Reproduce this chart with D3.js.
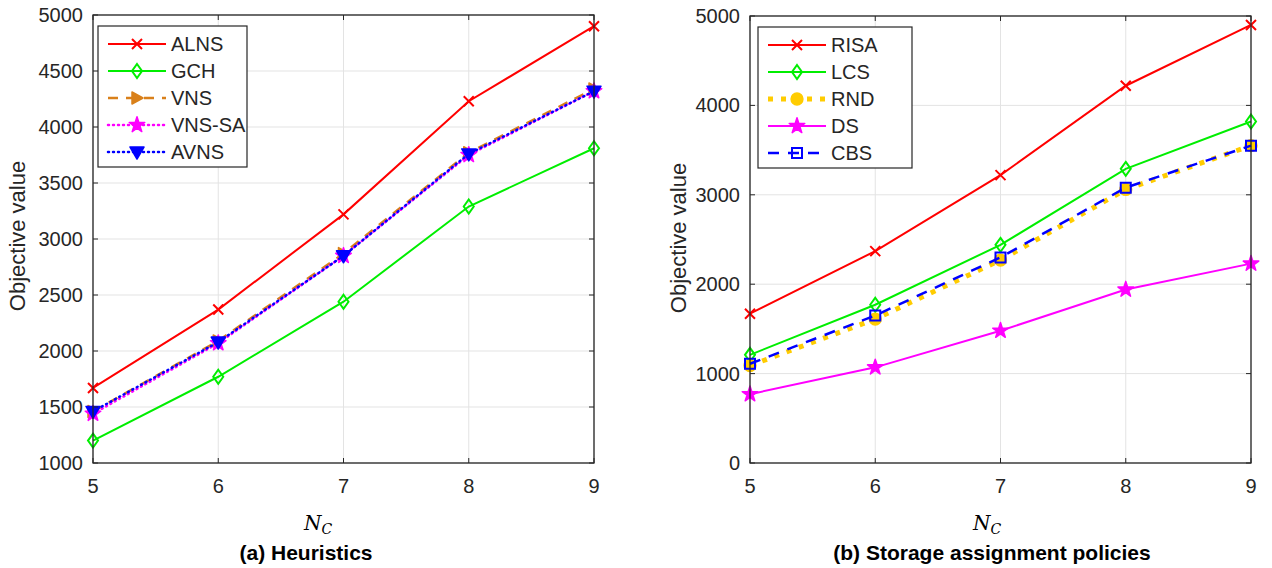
<!DOCTYPE html>
<html>
<head>
<meta charset="utf-8">
<script src="https://cdn.jsdelivr.net/npm/d3@7"></script>
<style>
  body { margin: 0; background: #fff; }
  svg { display: block; font-family: Arial, "Liberation Sans", sans-serif; }
  .tick-label { font-size: 20px; fill: #262626; }
  .ylab { font-size: 22px; fill: #262626; }
  .legend-text { font-size: 20px; fill: #262626; }
  .title { font-size: 21px; font-weight: bold; fill: #000; }
  .xlab { font-family: "DejaVu Serif", "Liberation Serif", serif; font-style: italic; font-size: 20px; fill: #000; }
</style>
</head>
<body>
<svg id="chart" width="1272" height="568"></svg>
<script>
// N_C values on the x axis
const nc = [5, 6, 7, 8, 9];

// (a) Heuristics
const alns  = [1670, 2370, 3220, 4230, 4900];
const gch   = [1200, 1770, 2440, 3290, 3810];
const vns   = [1460, 2090, 2870, 3770, 4340];
const vnsSa = [1440, 2070, 2850, 3750, 4320];
const avns  = [1460, 2080, 2850, 3760, 4320];

// (b) Storage assignment policies
const risa = [1670, 2370, 3220, 4220, 4900];
const lcs  = [1210, 1770, 2440, 3290, 3820];
const rnd  = [1090, 1610, 2270, 3060, 3550];
const ds   = [770, 1070, 1480, 1940, 2230];
const cbs  = [1110, 1650, 2300, 3080, 3550];

const ticksA = [1000, 1500, 2000, 2500, 3000, 3500, 4000, 4500, 5000];
const ticksB = [0, 1000, 2000, 3000, 4000, 5000];

const svg = d3.select("#chart");
const axisColor = "#262626";

// marker path generators, centred on 0,0
function markerPath(type) {
    switch (type) {
        case "x": return "M-5,-5L5,5M-5,5L5,-5";
        case "diamond": return "M0,-7L5,0L0,7L-5,0Z";
        case "triright": return "M-5,-6L6,0L-5,6Z";
        case "tridown": return "M-7,-5L7,-5L0,7Z";
        case "star": return d3.symbol(d3.symbolStar, 75)();
        case "circle": return d3.symbol(d3.symbolCircle, 110)();
        case "square": return "M-5,-5L5,-5L5,5L-5,5Z";
    }
}

function drawMarker(g, s, cx, cy) {
    const p = g.append("path")
        .attr("d", markerPath(s.marker))
        .attr("transform", `translate(${cx},${cy})`);
    if (s.fill) {
        p.attr("fill", s.color).attr("stroke", s.color).attr("stroke-width", 1.5)
         .attr("stroke-linejoin", "round");
    } else {
        p.attr("fill", "none").attr("stroke", s.color).attr("stroke-width", 2);
    }
}

function panel(opts) {
    const x = d3.scaleLinear().domain([5, 9]).range([opts.left, opts.right]);
    const y = d3.scaleLinear().domain(opts.yDomain).range([opts.bottom, opts.top]);
    const g = svg.append("g");

    // grid
    g.selectAll(".gx").data(nc).enter().append("line")
        .attr("x1", d => x(d)).attr("x2", d => x(d))
        .attr("y1", opts.top).attr("y2", opts.bottom)
        .attr("stroke", "#e3e3e3").attr("stroke-width", 1);
    g.selectAll(".gy").data(opts.ticks).enter().append("line")
        .attr("x1", opts.left).attr("x2", opts.right)
        .attr("y1", d => y(d)).attr("y2", d => y(d))
        .attr("stroke", "#e3e3e3").attr("stroke-width", 1);

    // series
    opts.series.forEach(s => {
        const pts = nc.map((v, i) => [x(v), y(s.values[i])]);
        g.append("path")
            .attr("d", d3.line()(pts))
            .attr("fill", "none")
            .attr("stroke", s.color)
            .attr("stroke-width", s.width)
            .attr("stroke-dasharray", s.dash)
            .attr("stroke-linecap", s.cap || "butt");
        pts.forEach(p => drawMarker(g, s, p[0], p[1]));
    });

    // box and ticks (inward, on all four sides)
    g.append("rect")
        .attr("x", opts.left).attr("y", opts.top)
        .attr("width", opts.right - opts.left).attr("height", opts.bottom - opts.top)
        .attr("fill", "none").attr("stroke", axisColor).attr("stroke-width", 1.3);
    nc.forEach(v => {
        g.append("line").attr("x1", x(v)).attr("x2", x(v))
            .attr("y1", opts.bottom).attr("y2", opts.bottom - 5).attr("stroke", axisColor);
        g.append("line").attr("x1", x(v)).attr("x2", x(v))
            .attr("y1", opts.top).attr("y2", opts.top + 5).attr("stroke", axisColor);
        g.append("text").attr("class", "tick-label")
            .attr("x", x(v)).attr("y", opts.bottom + 30)
            .attr("text-anchor", "middle").text(v);
    });
    opts.ticks.forEach(v => {
        g.append("line").attr("x1", opts.left).attr("x2", opts.left + 5)
            .attr("y1", y(v)).attr("y2", y(v)).attr("stroke", axisColor);
        g.append("line").attr("x1", opts.right).attr("x2", opts.right - 5)
            .attr("y1", y(v)).attr("y2", y(v)).attr("stroke", axisColor);
        g.append("text").attr("class", "tick-label")
            .attr("x", opts.left - 10).attr("y", y(v) + 7)
            .attr("text-anchor", "end").text(v);
    });

    // axis labels and caption
    g.append("text").attr("class", "ylab")
        .attr("transform", `translate(${opts.ylabX},${opts.ylabY}) rotate(-90)`)
        .attr("text-anchor", "middle").text("Objective value");
    const xl = g.append("text").attr("class", "xlab")
        .attr("x", opts.xlabX).attr("y", 530).attr("text-anchor", "middle");
    xl.append("tspan").text("N");
    xl.append("tspan").attr("font-size", "14px").attr("dy", 4).text("C");
    g.append("text").attr("class", "title")
        .attr("x", opts.titleX).attr("y", 560)
        .attr("text-anchor", "middle").text(opts.title);

    // legend
    const L = opts.legend;
    g.append("rect")
        .attr("x", L.x).attr("y", L.y).attr("width", L.w).attr("height", L.h)
        .attr("fill", "#fff").attr("stroke", axisColor).attr("stroke-width", 1.2);
    opts.series.forEach((s, i) => {
        const ry = L.y + 18 + i * 27;
        g.append("line")
            .attr("x1", L.x + 10).attr("x2", L.x + 68)
            .attr("y1", ry).attr("y2", ry)
            .attr("stroke", s.color).attr("stroke-width", s.width)
            .attr("stroke-dasharray", s.dash)
            .attr("stroke-linecap", s.cap || "butt");
        drawMarker(g, s, L.x + 39, ry);
        g.append("text").attr("class", "legend-text")
            .attr("x", L.x + 73).attr("y", ry + 7).text(s.name);
    });
}

panel({
    left: 93, right: 594, top: 15, bottom: 463,
    yDomain: [1000, 5000], ticks: ticksA,
    ylabX: 25, ylabY: 236, xlabX: 318, titleX: 306,
    title: "(a) Heuristics",
    legend: { x: 98, y: 26, w: 149, h: 141 },
    series: [
        { name: "ALNS", values: alns, color: "#ff0000", width: 2, dash: null, marker: "x" },
        { name: "GCH", values: gch, color: "#00ee00", width: 2, dash: null, marker: "diamond" },
        { name: "VNS", values: vns, color: "#d9801a", width: 2.5, dash: "10 8", marker: "triright", fill: true },
        { name: "VNS-SA", values: vnsSa, color: "#ff00ff", width: 2.5, dash: "1 4", cap: "round", marker: "star", fill: true },
        { name: "AVNS", values: avns, color: "#0000ff", width: 2.5, dash: "1 4", cap: "round", marker: "tridown", fill: true }
    ]
});

panel({
    left: 750, right: 1251, top: 16, bottom: 463,
    yDomain: [0, 5000], ticks: ticksB,
    ylabX: 686, ylabY: 238, xlabX: 987, titleX: 992,
    title: "(b) Storage assignment policies",
    legend: { x: 758, y: 27, w: 154, h: 141 },
    series: [
        { name: "RISA", values: risa, color: "#ff0000", width: 2, dash: null, marker: "x" },
        { name: "LCS", values: lcs, color: "#00ee00", width: 2, dash: null, marker: "diamond" },
        { name: "RND", values: rnd, color: "#ffcc00", width: 5, dash: "5 8", marker: "circle", fill: true },
        { name: "DS", values: ds, color: "#ff00ff", width: 2, dash: null, marker: "star", fill: true },
        { name: "CBS", values: cbs, color: "#0000ff", width: 2.5, dash: "11 9", marker: "square" }
    ]
});
</script>
</body>
</html>
